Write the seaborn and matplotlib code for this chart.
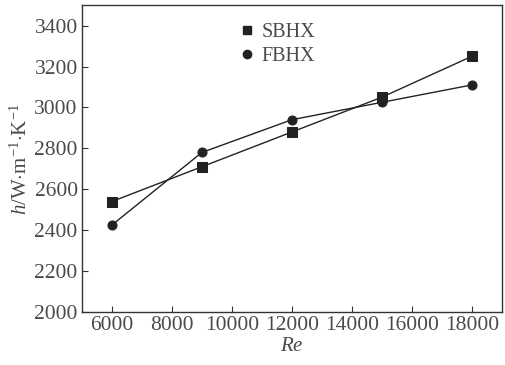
import pandas as pd
import matplotlib.pyplot as plt
from matplotlib.lines import Line2D
import seaborn as sns

# data
re_vals = [6000, 9000, 12000, 15000, 18000]
sbhx = [2540, 2710, 2880, 3050, 3250]
fbhx = [2425, 2780, 2940, 3025, 3110]

df = pd.DataFrame({
    'Re': re_vals * 2,
    'h': sbhx + fbhx,
    'type': ['SBHX'] * 5 + ['FBHX'] * 5,
})

sns.set_style('ticks')
plt.rcParams.update({
    'font.family': ['Liberation Serif', 'DejaVu Serif'],
    'mathtext.fontset': 'custom',
    'mathtext.rm': 'Liberation Serif',
    'mathtext.it': 'Liberation Serif:italic',
    'font.size': 15,
    'xtick.direction': 'in',
    'ytick.direction': 'in',
    'axes.linewidth': 1.0,
})

fig = plt.figure(figsize=(5.05, 3.65), dpi=100)
ax = fig.add_axes([0.162, 0.145, 0.832, 0.841])

sns.lineplot(data=df, x='Re', y='h', style='type', markers={'SBHX': 's', 'FBHX': 'o'},
             dashes=False, color='#222222', lw=1.0, markersize=6.5,
             markeredgecolor='#222222', ax=ax, legend=False)

ax.set_xlim(5000, 19000)
ax.set_ylim(2000, 3500)
ax.set_xticks(range(6000, 18001, 2000))
ax.set_yticks(range(2000, 3401, 200))
ax.tick_params(colors='#333333', labelcolor='#4a4a4a', length=4, labelsize=15.5, pad=3)
ax.set_xlabel('$Re$', fontsize=15, color='#4a4a4a', labelpad=1)
ax.set_ylabel(r'$h$/W$\cdot$m$^{-1}$$\cdot$K$^{-1}$', fontsize=15, color='#4a4a4a', labelpad=2)
for s in ax.spines.values():
    s.set_color('#333333')

handles = [Line2D([], [], marker='s', ls='none', color='#222222', markersize=6),
           Line2D([], [], marker='o', ls='none', color='#222222', markersize=6)]
ax.legend(handles, ['SBHX', 'FBHX'], loc='upper left', bbox_to_anchor=(0.327, 1.0),
          frameon=False, handlelength=1.0, handletextpad=0.2, labelspacing=0.25,
          fontsize=14.5, labelcolor='#4a4a4a')

fig.savefig('out.png', dpi=100)
